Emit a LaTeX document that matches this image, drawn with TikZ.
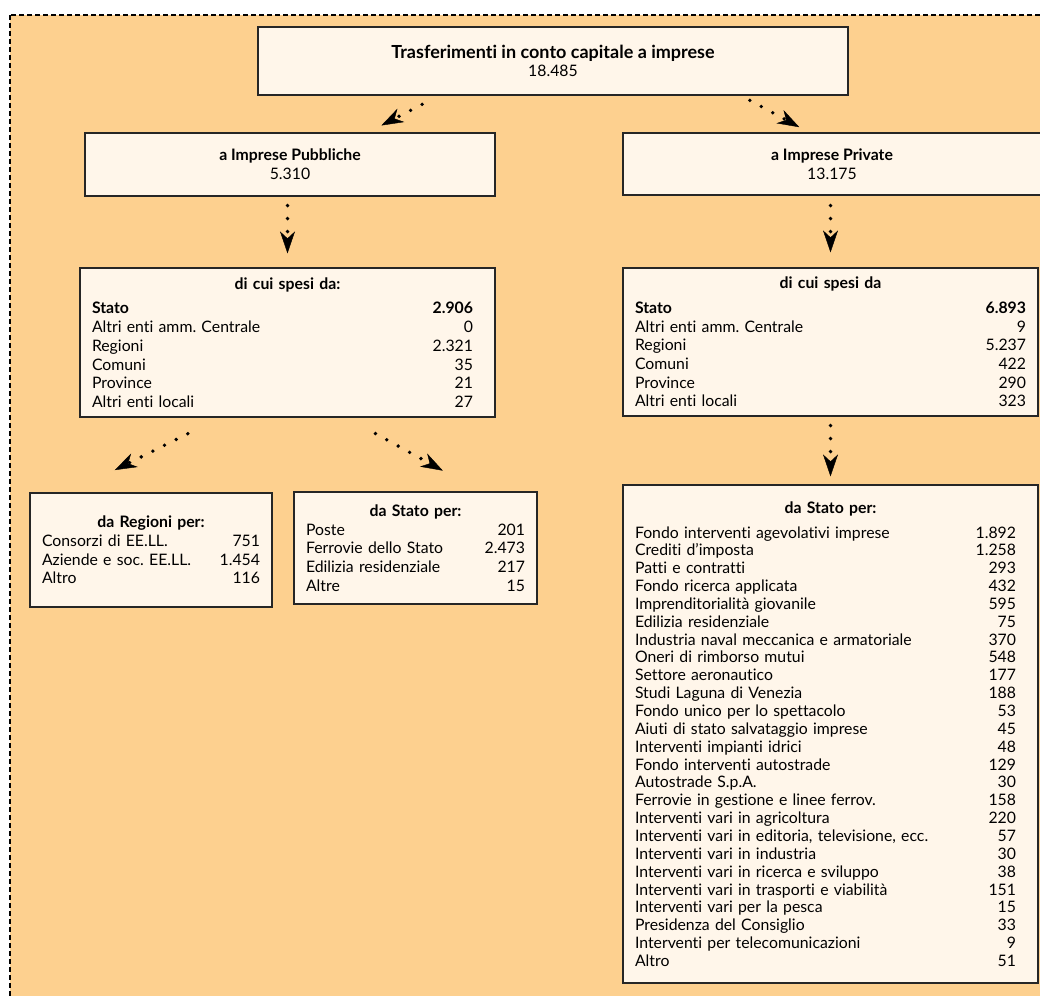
\documentclass[tikz,border=0pt]{standalone}
\usepackage{fontspec}
\setmainfont{Lato}[Ligatures=NoCommon]
\usetikzlibrary{arrows.meta}
\definecolor{sfondo}{HTML}{FDD08F}
\definecolor{crema}{HTML}{FFF6EA}
\frenchspacing
\newlength{\rientro}
\newcommand{\riga}[2]{\makebox[\linewidth]{#1\hfill #2\hspace*{\rientro}}}

\begin{document}
\begin{tikzpicture}[x=1pt, y=-1pt,
		box/.style={draw=black!85, line width=1.2pt, fill=crema, inner xsep=12pt, inner ysep=0pt, align=center, font=\fontsize{15.8}{18.7}\selectfont},
		flow/.style={line width=3.8pt, line cap=round, dash pattern=on 0pt off 13pt, -{Stealth[length=22pt, width=15pt, inset=7pt, line width=0.4pt]}}]
	\clip (0,0) rectangle (1040,995);
	\draw[dashed, dash pattern=on 5pt off 3pt, line width=1.3pt, fill=sfondo] (10,15) rectangle (1060,1020);

	\node (top)[box, minimum width=590pt, minimum height=68pt] at (553,61) {{\fontsize{18}{19}\selectfont\textbf{Trasferimenti in conto capitale a imprese}}\\18.485};

	\node (pub)[box, minimum width=410pt, minimum height=63pt] at (290,164.5) {\textbf{a Imprese Pubbliche}\\5.310};
	\node (priv)[box, minimum width=418pt, minimum height=62pt] at (832,164) {\textbf{a Imprese Private}\\13.175};

	\node (spesiL)[box, text width=391pt, minimum height=149pt, execute at begin node={\rientro=10pt}] at (287.5,342.5) {\textbf{di cui spesi da:}\\[6pt]
		\riga{\textbf{Stato}}{\textbf{2.906}}\\
		\riga{Altri enti amm. Centrale}{0}\\
		\riga{Regioni}{2.321}\\
		\riga{Comuni}{35}\\
		\riga{Province}{21}\\
		\riga{Altri enti locali}{27}};
	\node (spesiR)[box, text width=391pt, minimum height=148pt] at (830.5,342) {\textbf{di cui spesi da}\\[6pt]
		\riga{\textbf{Stato}}{\textbf{6.893}}\\
		\riga{Altri enti amm. Centrale}{9}\\
		\riga{Regioni}{5.237}\\
		\riga{Comuni}{422}\\
		\riga{Province}{290}\\
		\riga{Altri enti locali}{323}};

	\node (regioni)[box, text width=218pt, minimum height=114pt] at (151,550) {\textbf{da Regioni per:}\\
		\riga{Consorzi di EE.LL.}{751}\\
		\riga{Aziende e soc. EE.LL.}{1.454}\\
		\riga{Altro}{116}};
	\node (statoL)[box, text width=219pt, minimum height=112pt] at (415.5,548) {\textbf{da Stato per:}\\
		\riga{Poste}{201}\\
		\riga{Ferrovie dello Stato}{2.473}\\
		\riga{Edilizia residenziale}{217}\\
		\riga{Altre}{15}};

	\node (statoR)[box, text width=391pt, minimum height=498pt, font=\fontsize{15.8}{17.85}\selectfont, execute at begin node={\rientro=10pt}] at (830.5,734) {\textbf{da Stato per:}\\[7pt]
		\riga{Fondo interventi agevolativi imprese}{1.892}\\
		\riga{Crediti d’imposta}{1.258}\\
		\riga{Patti e contratti}{293}\\
		\riga{Fondo ricerca applicata}{432}\\
		\riga{Imprenditorialità giovanile}{595}\\
		\riga{Edilizia residenziale}{75}\\
		\riga{Industria naval meccanica e armatoriale}{370}\\
		\riga{Oneri di rimborso mutui}{548}\\
		\riga{Settore aeronautico}{177}\\
		\riga{Studi Laguna di Venezia}{188}\\
		\riga{Fondo unico per lo spettacolo}{53}\\
		\riga{Aiuti di stato salvataggio imprese}{45}\\
		\riga{Interventi impianti idrici}{48}\\
		\riga{Fondo interventi autostrade}{129}\\
		\riga{Autostrade S.p.A.}{30}\\
		\riga{Ferrovie in gestione e linee ferrov.}{158}\\
		\riga{Interventi vari in agricoltura}{220}\\
		\riga{Interventi vari in editoria, televisione, ecc.}{57}\\
		\riga{Interventi vari in industria}{30}\\
		\riga{Interventi vari in ricerca e sviluppo}{38}\\
		\riga{Interventi vari in trasporti e viabilità}{151}\\
		\riga{Interventi vari per la pesca}{15}\\
		\riga{Presidenza del Consiglio}{33}\\
		\riga{Interventi per telecomunicazioni}{9}\\
		\riga{Altro}{51}};

	\draw[flow, shorten <=19pt, shorten >=15pt] ([xshift=-114pt]top.south) -- ([xshift=78pt]pub.north);
	\draw[flow, shorten <=10pt, shorten >=11pt] ([xshift=188pt]top.south) -- ([xshift=-23pt]priv.north);

	\draw[flow, shorten <=9pt, shorten >=14pt] (spesiL.north |- pub.south) -- (spesiL.north);
	\draw[flow, shorten <=10pt, shorten >=15pt] (spesiR.north |- priv.south) -- (spesiR.north);

	\draw[flow, shorten <=36pt, shorten >=50pt] ([xshift=-67.5pt]spesiL.south) -- ([xshift=-81pt]regioni.north);
	\draw[flow, shorten <=33pt, shorten >=43pt] ([xshift=59pt]spesiL.south) -- ([xshift=65pt]statoL.north);
	\draw[flow, shorten <=9pt, shorten >=8pt] (statoR.north |- spesiR.south) -- (statoR.north);
\end{tikzpicture}
\end{document}
